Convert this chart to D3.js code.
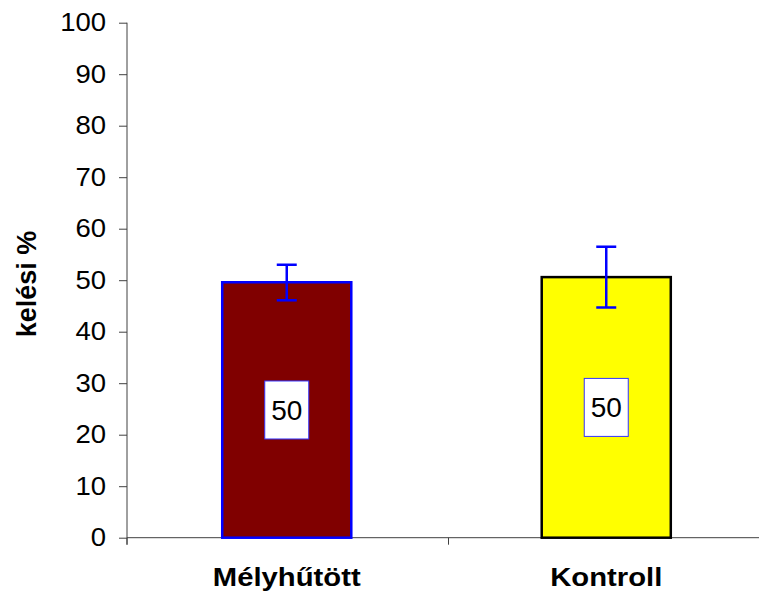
<!DOCTYPE html>
<html>
<head>
<meta charset="utf-8">
<script src="https://cdn.jsdelivr.net/npm/d3@7"></script>
<style>
  html, body { margin: 0; padding: 0; background: #fff; }
  svg { display: block; font-family: Arial, "Liberation Sans", sans-serif; }
</style>
</head>
<body>
<svg id="chart" width="759" height="594"></svg>
<script>
// ---- data ----
const categories = ["Mélyhűtött", "Kontroll"];
const values = [49.6, 50.6];
const errLow = [46.1, 44.7];
const errHigh = [53.0, 56.5];
const valueLabels = ["50", "50"];
const fillColors = ["#800000", "#ffff00"];
const strokeColors = ["#0000ff", "#000000"];
const yTicks = [0, 10, 20, 30, 40, 50, 60, 70, 80, 90, 100];
const yTitle = "kelési %";

// ---- layout ----
const W = 759, H = 594;
const plotLeft = 127, plotRight = 770, plotTop = 22.7, plotBottom = 537.7;
const svg = d3.select("#chart");

const x = d3.scaleBand().domain(categories).range([plotLeft, plotRight - 4])
  .paddingInner(0.596).paddingOuter(0.298);
const xb = d3.scaleBand().domain(categories).range([plotLeft, plotRight]).padding(0);
const y = d3.scaleLinear().domain([0, 100]).range([plotBottom, plotTop]);

const axisColor = "#404040";

// Y axis
const yAxis = svg.append("g")
  .attr("transform", `translate(${plotLeft},0)`)
  .call(d3.axisLeft(y).tickValues(yTicks).tickSize(8).tickPadding(13).tickFormat(d3.format("d")));
yAxis.select(".domain").attr("stroke", axisColor).attr("d", `M0,${plotTop}V${plotBottom + 7}`);
yAxis.selectAll(".tick line").attr("stroke", axisColor);
yAxis.selectAll(".tick text")
  .attr("fill", "#000")
  .style("font-size", "25px")
  .attr("transform", function () {
    const tx = +d3.select(this).attr("x");
    return `translate(${tx},0) scale(1.1,1) translate(${-tx},0)`;
  });

// X axis line with boundary ticks
svg.append("line")
  .attr("x1", plotLeft).attr("x2", W).attr("y1", plotBottom).attr("y2", plotBottom)
  .attr("stroke", axisColor).attr("stroke-width", 1);
const bounds = [plotLeft].concat(categories.map(c => xb(c) + xb.bandwidth()));
svg.selectAll(".xtick").data(bounds).enter().append("line")
  .attr("class", "xtick")
  .attr("x1", d => d).attr("x2", d => d)
  .attr("y1", plotBottom).attr("y2", plotBottom + 7)
  .attr("stroke", axisColor);

// Category labels
svg.selectAll(".cat").data(categories).enter().append("text")
  .attr("class", "cat")
  .attr("transform", d => `translate(${x(d) + x.bandwidth() / 2},586) scale(1.17,1)`)
  .attr("text-anchor", "middle")
  .style("font-size", "25px").style("font-weight", "bold")
  .text(d => d);

// Y title
svg.append("text")
  .attr("transform", `translate(36,284) rotate(-90)`)
  .attr("text-anchor", "middle")
  .style("font-size", "27px").style("font-weight", "bold")
  .text(yTitle);

// Bars
svg.selectAll(".bar").data(categories).enter().append("rect")
  .attr("class", "bar")
  .attr("x", d => x(d))
  .attr("width", x.bandwidth())
  .attr("y", (d, i) => y(values[i]))
  .attr("height", (d, i) => y(0) - y(values[i]))
  .attr("fill", (d, i) => fillColors[i])
  .attr("stroke", (d, i) => strokeColors[i])
  .attr("stroke-width", 2.5);

// Error bars
const capW = 20;
const eb = svg.selectAll(".err").data(categories).enter().append("g").attr("class", "err");
eb.append("line")
  .attr("x1", d => x(d) + x.bandwidth() / 2).attr("x2", d => x(d) + x.bandwidth() / 2)
  .attr("y1", (d, i) => y(errHigh[i])).attr("y2", (d, i) => y(errLow[i]))
  .attr("stroke", "#0000ff").attr("stroke-width", 2.5);
eb.append("line")
  .attr("x1", d => x(d) + x.bandwidth() / 2 - capW / 2).attr("x2", d => x(d) + x.bandwidth() / 2 + capW / 2)
  .attr("y1", (d, i) => y(errHigh[i])).attr("y2", (d, i) => y(errHigh[i]))
  .attr("stroke", "#0000ff").attr("stroke-width", 2.5);
eb.append("line")
  .attr("x1", d => x(d) + x.bandwidth() / 2 - capW / 2).attr("x2", d => x(d) + x.bandwidth() / 2 + capW / 2)
  .attr("y1", (d, i) => y(errLow[i])).attr("y2", (d, i) => y(errLow[i]))
  .attr("stroke", "#0000ff").attr("stroke-width", 2.5);

// Value labels in boxes
const boxW = 44, boxH = 58;
const lb = svg.selectAll(".lbl").data(categories).enter().append("g").attr("class", "lbl")
  .attr("transform", (d, i) => `translate(${x(d) + x.bandwidth() / 2},${y(values[i] / 2)})`);
lb.append("rect")
  .attr("x", -boxW / 2).attr("y", -boxH / 2).attr("width", boxW).attr("height", boxH)
  .attr("fill", "#fff").attr("stroke", "#3333ff").attr("stroke-width", 1);
lb.append("text")
  .attr("text-anchor", "middle").attr("dy", "0.36em")
  .style("font-size", "28px")
  .text((d, i) => valueLabels[i]);
</script>
</body>
</html>
